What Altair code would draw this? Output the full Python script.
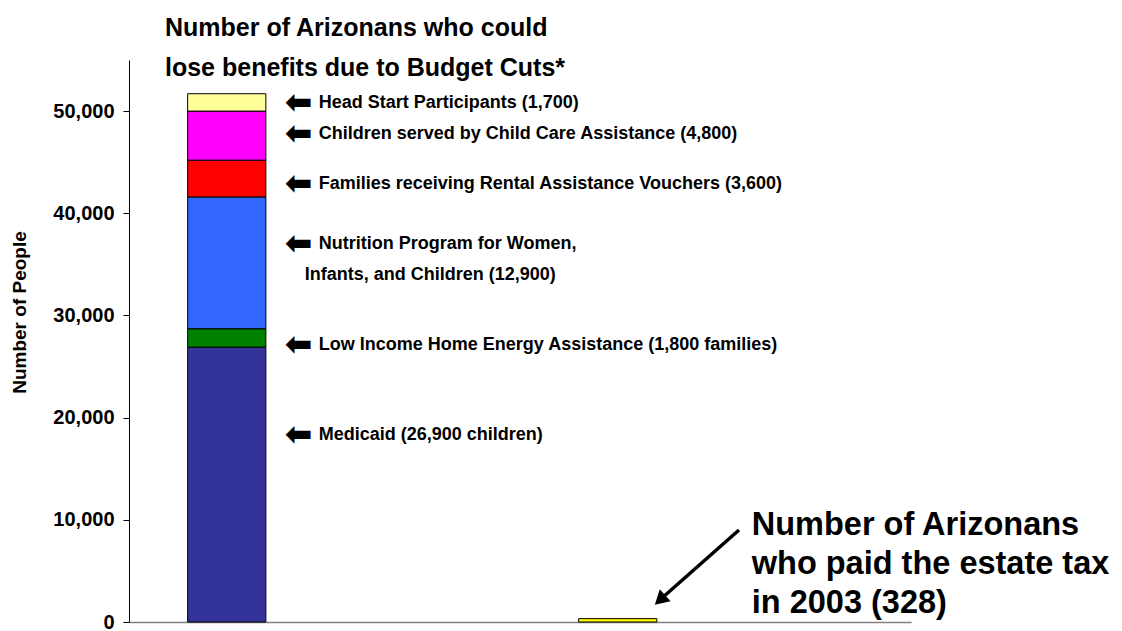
import altair as alt
import pandas as pd

# ---- data ----
categories = ["Budget Cuts", " ", "Estate Tax", "  "]
programs = ["Medicaid", "Low Income Home Energy Assistance", "WIC", "Rental Assistance",
            "Child Care Assistance", "Head Start", "Estate tax payers"]
program_cat = ["Budget Cuts"] * 6 + ["Estate Tax"]
program_values = [26900, 1800, 12900, 3600, 4800, 1700, 328]
program_colors = ["#333399", "#008000", "#3366FF", "#FF0000", "#FF00FF", "#FFFF99", "#FFFF00"]

label_texts = [
    "Head Start Participants (1,700)",
    "Children served by Child Care Assistance (4,800)",
    "Families receiving Rental Assistance Vouchers (3,600)",
    "Nutrition Program for Women,",
    "Low Income Home Energy Assistance (1,800 families)",
    "Medicaid (26,900 children)",
]
label_y = [50800, 47750, 42860, 36990, 27110, 18300]
cont_texts = ["Infants, and Children (12,900)"]
cont_y = [33960]

estate_text = ["Number of Arizonans", "who paid the estate tax", "in 2003 (328)"]
estate_y = [9500]

title_lines = ["Number of Arizonans who could", "lose benefits due to Budget Cuts*"]

FONT = "Liberation Sans"

bars_df = pd.DataFrame({
    "cat": program_cat,
    "program": programs,
    "value": program_values,
    "order": list(range(len(programs))),
})
labels_df = pd.DataFrame({"cat": ["Budget Cuts"] * len(label_texts), "text": label_texts,
                          "y": label_y, "arrow": ["\u2b05"] * len(label_texts)})
cont_df = pd.DataFrame({"cat": ["Budget Cuts"] * len(cont_texts), "text": cont_texts, "y": cont_y})
estate_df = pd.DataFrame({"cat": ["Estate Tax"], "text": [estate_text], "y": estate_y})

xscale = alt.Scale(domain=categories, paddingInner=0.6, paddingOuter=0.3)
yscale = alt.Scale(domain=[0, 55000], nice=False)

x_enc = alt.X("cat:N", scale=xscale, sort=categories,
              axis=alt.Axis(labels=False, ticks=False, title=None, domainColor="#808080",
                            domainWidth=1.5))

bars = alt.Chart(bars_df).mark_bar(stroke="black", strokeWidth=1).encode(
    x=x_enc,
    y=alt.Y("value:Q", stack="zero", scale=yscale,
            axis=alt.Axis(values=[0, 10000, 20000, 30000, 40000, 50000], format=",.0f",
                          grid=False, labelFont=FONT, labelFontSize=20, labelFontWeight="bold",
                          labelColor="black", labelPadding=9, tickSize=6, tickColor="black",
                          domainColor="black", title="Number of People", titleFont=FONT,
                          titleFontSize=19, titleFontWeight="bold", titleColor="black",
                          titleX=-110, titleY=252, titleAlign="center", titleBaseline="middle")),
    color=alt.Color("program:N", scale=alt.Scale(domain=programs, range=program_colors), legend=None),
    order=alt.Order("order:Q", sort="ascending"),
)

arrows = alt.Chart(labels_df).mark_text(
    align="left", baseline="middle", dx=58, dy=0, font="DejaVu Sans", fontSize=33,
    fontWeight="bold", color="black"
).encode(x=alt.X("cat:N", scale=xscale, sort=categories), y=alt.Y("y:Q", scale=yscale), text="arrow:N")

labels = alt.Chart(labels_df).mark_text(
    align="left", baseline="middle", dx=92, font=FONT, fontSize=18, fontWeight="bold", color="black"
).encode(x=alt.X("cat:N", scale=xscale, sort=categories), y=alt.Y("y:Q", scale=yscale), text="text:N")

cont = alt.Chart(cont_df).mark_text(
    align="left", baseline="middle", dx=78, font=FONT, fontSize=18, fontWeight="bold", color="black"
).encode(x=alt.X("cat:N", scale=xscale, sort=categories), y=alt.Y("y:Q", scale=yscale), text="text:N")

estate = alt.Chart(estate_df).mark_text(
    align="left", baseline="middle", dx=134, font=FONT, fontSize=32.5, fontWeight="bold",
    color="black", lineHeight=39
).encode(x=alt.X("cat:N", scale=xscale, sort=categories), y=alt.Y("y:Q", scale=yscale), text="text")

arrow_line = alt.Chart(pd.DataFrame({"a": [0]})).mark_rule(color="black", strokeWidth=3.5).encode(
    x=alt.value(610), y=alt.value(470), x2=alt.value(533), y2=alt.value(538)
)
arrow_head = alt.Chart(pd.DataFrame({"a": [0]})).mark_point(
    shape="triangle-up", filled=True, color="black", size=260, angle=228, opacity=1
).encode(x=alt.value(531), y=alt.value(540))

title = alt.Chart(pd.DataFrame({"t": [title_lines]})).mark_text(
    align="left", baseline="middle", font=FONT, fontSize=25, fontWeight="bold", color="black",
    lineHeight=40
).encode(x=alt.value(36), y=alt.value(-32), text="t")

chart = alt.layer(bars, arrows, labels, cont, estate, arrow_line, arrow_head, title).properties(
    width=782, height=562,
    padding={"left": 121, "top": 52, "right": 202, "bottom": 8},
    autosize=alt.AutoSizeParams(type="none"),
    background="white",
).configure_view(stroke=None, strokeWidth=0)

chart.save("out.html", embed_options={"renderer": "svg", "actions": False})
